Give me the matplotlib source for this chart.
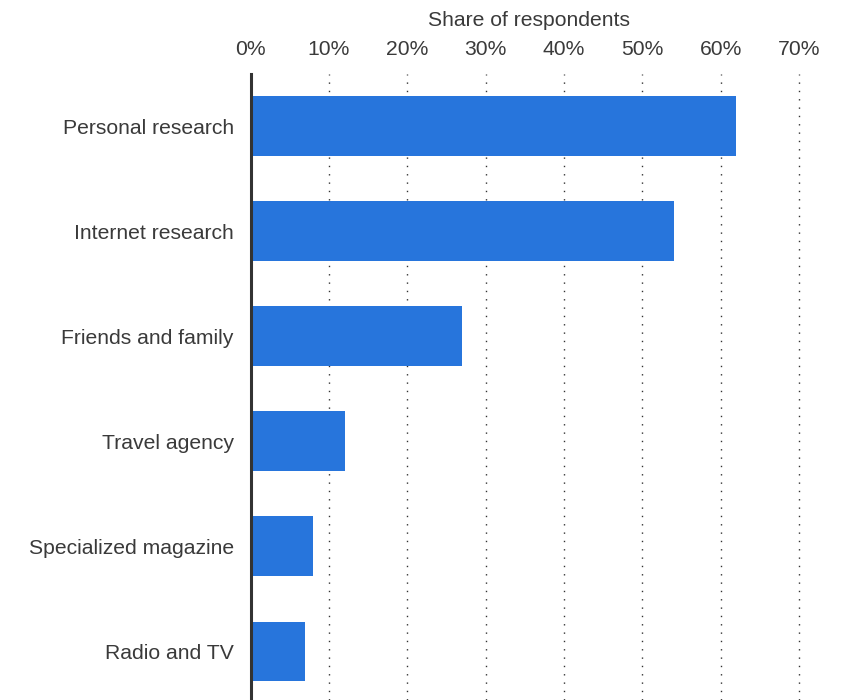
import matplotlib
matplotlib.use("Agg")
import matplotlib.pyplot as plt

categories = ["Personal research", "Internet research", "Friends and family",
              "Travel agency", "Specialized magazine", "Radio and TV"]
values = [62, 54, 27, 12, 8, 7]
xticks = [0, 10, 20, 30, 40, 50, 60, 70]
xtick_labels = [f"{v}%" for v in xticks]

plt.rcParams['font.family'] = ['Liberation Sans', 'DejaVu Sans']
W, H = 843, 700
fig = plt.figure(figsize=(W / 100, H / 100), dpi=100)
px_per_unit = (799 - 250.5) / 70
left = 250.5 / W
right = (250.5 + 71 * px_per_unit) / W
top = 1 - 73.5 / H
ax = fig.add_axes([left, 0, right - left, top])

ypos = list(range(len(categories)))
ax.barh(ypos, values, height=0.57, color="#2775dc", zorder=3)
ax.set_ylim(5.5 - 4 / 105, -0.5)
ax.set_xlim(0, 71)
ax.set_yticks(ypos)
ax.set_yticklabels(categories)
ax.set_xticks(xticks)
ax.set_xticklabels(xtick_labels)
ax.xaxis.tick_top()
ax.xaxis.set_label_position('top')
txt = "#3a3a3a"
ax.set_xlabel("Share of respondents", fontsize=15.2, color=txt, labelpad=10)
ax.tick_params(axis='x', length=0, pad=10.5, labelsize=15.2, labelcolor=txt)
ax.tick_params(axis='y', length=0, pad=12, labelsize=15.2, labelcolor=txt)
ax.grid(axis='x', color="#333333", linewidth=1.0, linestyle=(0, (1, 5)), zorder=1)
for s in ['top', 'right', 'bottom']:
    ax.spines[s].set_visible(False)
ax.spines['left'].set_color("#333333")
ax.spines['left'].set_linewidth(2.2)
ax.spines['left'].set_zorder(4)

fig.savefig("out.png", dpi=100)
